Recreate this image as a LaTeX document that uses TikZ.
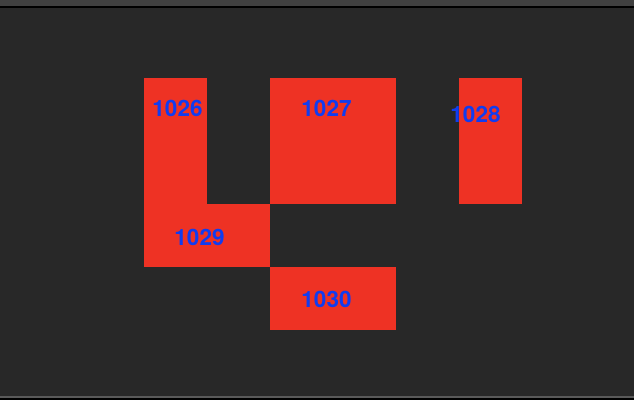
\documentclass[tikz,border=0pt]{standalone}
\usepackage{fontspec}
\setmainfont{TeX Gyre Heros}
\definecolor{bgdark}{RGB}{40,40,40}
\definecolor{bgstrip}{RGB}{64,64,64}
\definecolor{bgline}{RGB}{90,90,90}
\definecolor{cellred}{RGB}{238,50,36}
\definecolor{labelblue}{RGB}{16,60,240}
\tikzset{
	cell/.style={fill=cellred},
	cellid/.style={text=labelblue, font=\fontsize{22.5}{22.5}\selectfont\bfseries, inner sep=0pt}
}
\begin{document}
\begin{tikzpicture}[x=1pt, y=-1pt]
			\useasboundingbox (0,0) rectangle (634,400);
			\fill[bgdark] (0,0) rectangle (634,400);
			\fill[bgstrip] (0,0) rectangle (634,5.5);
			\fill[black] (0,5.5) rectangle (634,7.5);
			\fill[bgline] (0,395.5) rectangle (634,397.5);
			\fill[black] (0,397.5) rectangle (634,400);
			% cells
			\fill[cell] (144,78) rectangle (207,204);
			\fill[cell] (144,204) rectangle (270,267);
			\fill[cell] (270,78) rectangle (396,204);
			\fill[cell] (459,78) rectangle (522,204);
			\fill[cell] (270,267) rectangle (396,330);
			% ids
			\node[cellid] (c1026) at (177.5, 108) {1026};
			\node[cellid] (c1027) at (326.5, 108) {1027};
			\node[cellid] (c1028) at (475.5, 114.5) {1028};
			\node[cellid] (c1029) at (199.5, 237.5) {1029};
			\node[cellid] (c1030) at (326.5, 299.5) {1030};
		\end{tikzpicture}
\end{document}
